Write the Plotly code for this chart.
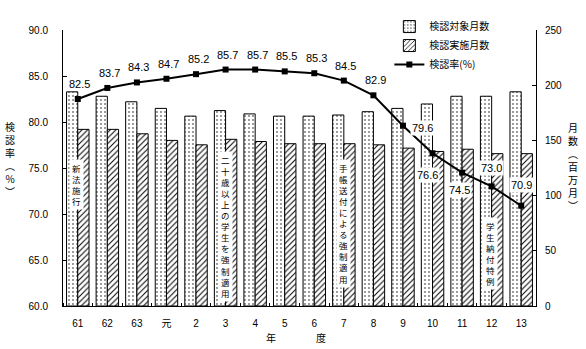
import plotly.graph_objects as go

# ---- data ----
categories = ["61", "62", "63", "元", "2", "3", "4", "5", "6", "7", "8", "9", "10", "11", "12", "13"]
target_months = [194, 190, 185, 179, 172, 177, 174, 172, 172, 173, 176, 179, 183, 190, 190, 194]
done_months = [160, 160, 156, 150, 146, 151, 149, 147, 147, 147, 146, 143, 140, 142, 138, 138]
rate = [82.5, 83.7, 84.3, 84.7, 85.2, 85.7, 85.7, 85.5, 85.3, 84.5, 82.9, 79.6, 76.6, 74.5, 73.0, 70.9]
series_names = ["検認対象月数", "検認実施月数", "検認率(%)"]
event_labels = {"61": "新法施行", "3": "二十歳以上の学生を強制適用",
                "7": "手帳送付による強制適用", "12": "学生納付特例"}

FONT = "Liberation Sans, Noto Sans CJK JP, sans-serif"
JFONT = "Noto Sans CJK JP, sans-serif"

pos = list(range(len(categories)))

fig = go.Figure()
fig.add_trace(go.Bar(
    x=pos, y=target_months, name=series_names[0], yaxis="y",
    marker=dict(color="white", line=dict(color="black", width=1),
                pattern=dict(shape=".", fgcolor="black", bgcolor="white",
                             size=4, solidity=0.1, fillmode="replace")),
))
fig.add_trace(go.Bar(
    x=pos, y=done_months, name=series_names[1], yaxis="y",
    marker=dict(color="white", line=dict(color="black", width=1),
                pattern=dict(shape="/", fgcolor="black", bgcolor="white",
                             size=4, solidity=0.25, fillmode="replace")),
))
fig.add_trace(go.Scatter(
    x=pos, y=rate, name=series_names[2], yaxis="y2",
    mode="lines+markers", line=dict(color="black", width=2),
    marker=dict(symbol="square", size=6, color="black"),
))

# data labels
offsets = {11: (20, -2, True), 12: (-5, -22, True), 13: (-3, -17, True),
           14: (0, 18, True), 15: (0, 21, True)}
for i, v in enumerate(rate):
    xs, ys, bg = offsets.get(i, (2, 15, False))
    fig.add_annotation(x=i, y=v, xref="x", yref="y2", text=f"{v:.1f}",
                       showarrow=False, xshift=xs, yshift=ys,
                       xanchor="center", yanchor="middle",
                       font=dict(size=11, color="black", family=FONT),
                       bgcolor="white" if bg else "rgba(0,0,0,0)", borderpad=1)

# vertical event texts (center y in paper units)
event_pos = {"61": (0.44, -1), "3": (0.289, 0), "7": (0.299, 0), "12": (0.19, -1)}
for c, txt in event_labels.items():
    yy, xs = event_pos[c]
    fig.add_annotation(x=categories.index(c), y=yy, xref="x", yref="paper",
                       text="<br>".join(txt), xanchor="center", yanchor="middle",
                       showarrow=False, xshift=xs, bgcolor="white", borderpad=2,
                       font=dict(size=8.5, color="black", family=JFONT))

# axis titles
fig.add_annotation(x=-53 / 473, y=(306 - 149) / 294, xref="paper", yref="paper",
                   xanchor="center", yanchor="middle",
                   text="<br>".join(["検", "認", "率", "︵", "%", "︶"]), showarrow=False,
                   font=dict(size=10, color="black", family=JFONT))
fig.add_annotation(x=1 + 37 / 473, y=(306 - 157) / 294, xref="paper", yref="paper",
                   xanchor="center", yanchor="middle",
                   text="<br>".join(["月", "数", "︵", "百", "万", "月", "︶"]), showarrow=False,
                   font=dict(size=10, color="black", family=JFONT))
fig.add_annotation(x=(296 - 63) / 473, y=-34 / 294, xref="paper", yref="paper",
                   xanchor="center", yanchor="middle",
                   text="年　　　　度", showarrow=False,
                   font=dict(size=10, color="black", family=JFONT))

fig.update_layout(
    width=586, height=349,
    margin=dict(l=63, r=50, t=12, b=43),
    paper_bgcolor="white", plot_bgcolor="white",
    font=dict(family=FONT, size=10, color="black"),
    barmode="group", bargap=0.24, bargroupgap=0,
    showlegend=True,
    legend=dict(x=0.69, y=1.065, xanchor="left", yanchor="top",
                bgcolor="rgba(0,0,0,0)", font=dict(size=10, family=JFONT),
                tracegroupgap=0, itemwidth=30),
    xaxis=dict(range=[-0.5, len(categories) - 0.5], tickmode="array",
               tickvals=pos, ticktext=categories,
               showline=True, linecolor="black", linewidth=1,
               ticks="", showgrid=False, zeroline=False, ticklabelstandoff=8,
               tickfont=dict(size=10, family=FONT),
               minor=dict(tick0=-0.5, dtick=1, ticks="inside", ticklen=3,
                          tickcolor="black", showgrid=False)),
    yaxis=dict(range=[0, 250], dtick=50, side="right", showline=True, linecolor="black",
               ticks="inside", ticklen=4, tickcolor="black", showgrid=False, zeroline=False,
               ticklabelstandoff=6, tickfont=dict(size=10)),
    yaxis2=dict(range=[60, 90], dtick=5, tickformat=".1f", side="left", overlaying="y",
                showline=True, linecolor="black", ticks="inside", ticklen=4, tickcolor="black",
                showgrid=False, zeroline=False, ticklabelstandoff=12, tickfont=dict(size=10)),
)

fig.write_html("out.html")
